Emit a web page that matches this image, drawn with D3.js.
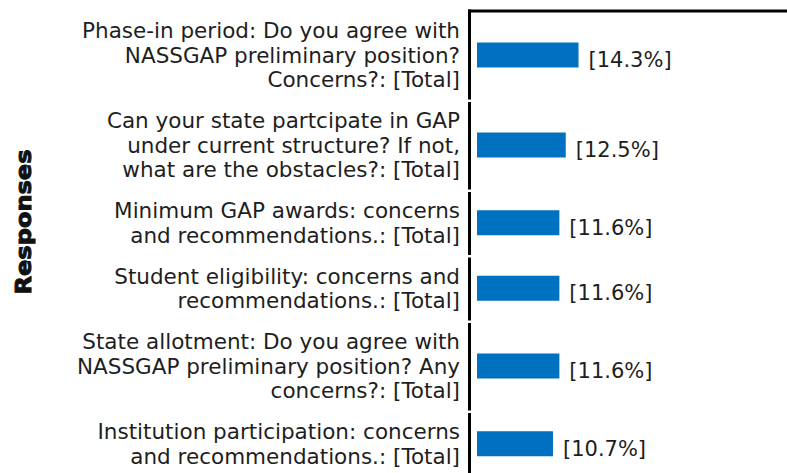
<!DOCTYPE html>
<html lang="en">
<head>
<meta charset="UTF-8" />
<title>Responses</title>
<script src="https://d3js.org/d3.v7.min.js"></script>
<style>
  html, body { margin: 0; padding: 0; background: #fff; }
  svg { display: block; }
  .cat, .val { font-family: "DejaVu Sans", Verdana, sans-serif; font-size: 21.5px; fill: #1e1e1e; }
  .val { font-size: 21px; }
  .ytitle { font-family: "DejaVu Sans", sans-serif; font-weight: bold; font-size: 22px; fill: #111; stroke: #111; stroke-width: 1px; }
</style>
</head>
<body>
<div id="chart"></div>
<script>
// category labels, one entry per line of the label
const categories = [
  ["Phase-in period: Do you agree with", "NASSGAP preliminary position?", "Concerns?: [Total]"],
  ["Can your state partcipate in GAP", "under current structure? If not,", "what are the obstacles?: [Total]"],
  ["Minimum GAP awards: concerns", "and recommendations.: [Total]"],
  ["Student eligibility: concerns and", "recommendations.: [Total]"],
  ["State allotment: Do you agree with", "NASSGAP preliminary position? Any", "concerns?: [Total]"],
  ["Institution participation: concerns", "and recommendations.: [Total]"]
];
const values = [14.3, 12.5, 11.6, 11.6, 11.6, 10.7];
const yTitle = "Responses";

const width = 787, height = 473;
const axisX = 469.5, lineH = 24.5, pad = 16.5 / 24.5;

const svg = d3.select("#chart").append("svg")
  .attr("width", width)
  .attr("height", height);

// bands sized by the number of label lines
const units = categories.map(c => c.length + pad);
const starts = d3.cumsum([0, ...units]);
const y = d3.scaleLinear()
  .domain([0, d3.sum(units)])
  .range([10.5, 477]);

const x = d3.scaleLinear()
  .domain([0, 100])
  .range([477, 477 + 710]);

const rows = categories.map((lines, i) => ({
  lines, value: values[i],
  y0: y(starts[i]), y1: y(starts[i + 1]),
  cy: (y(starts[i]) + y(starts[i + 1])) / 2 - 0.5
}));

// top line
svg.append("line")
  .attr("x1", axisX - 1.5).attr("x2", width)
  .attr("y1", 11).attr("y2", 11)
  .attr("stroke", "#000").attr("stroke-width", 3);

// axis pieces, one per category
svg.selectAll(".seg")
  .data(rows)
  .join("line")
  .attr("class", "seg")
  .attr("x1", axisX).attr("x2", axisX)
  .attr("y1", (d, i) => i === 0 ? 9.5 : d.y0 + 1.5)
  .attr("y2", d => d.y1 - 1)
  .attr("stroke", "#000").attr("stroke-width", 3);

svg.selectAll(".bar")
  .data(rows)
  .join("rect")
  .attr("class", "bar")
  .attr("x", x(0))
  .attr("y", d => d.cy - 12.5)
  .attr("width", d => x(d.value) - x(0))
  .attr("height", 25)
  .attr("fill", "#0070c0");

svg.selectAll(".val")
  .data(rows)
  .join("text")
  .attr("class", "val")
  .attr("x", d => x(d.value) + 10)
  .attr("y", d => d.cy + 12)
  .text(d => `[${d.value}%]`);

const cat = svg.selectAll(".cat")
  .data(rows)
  .join("text")
  .attr("class", "cat")
  .attr("text-anchor", "end");

cat.selectAll("tspan")
  .data(d => d.lines.map((t, j) => ({ t, yy: d.cy + (j - (d.lines.length - 1) / 2) * lineH })))
  .join("tspan")
  .attr("x", 460)
  .attr("y", d => d.yy)
  .attr("dy", "0.35em")
  .text(d => d.t);

svg.append("text")
  .attr("class", "ytitle")
  .attr("transform", "translate(31,222) rotate(-90)")
  .attr("text-anchor", "middle")
  .attr("textLength", 145)
  .attr("lengthAdjust", "spacingAndGlyphs")
  .text(yTitle);
</script>
</body>
</html>
